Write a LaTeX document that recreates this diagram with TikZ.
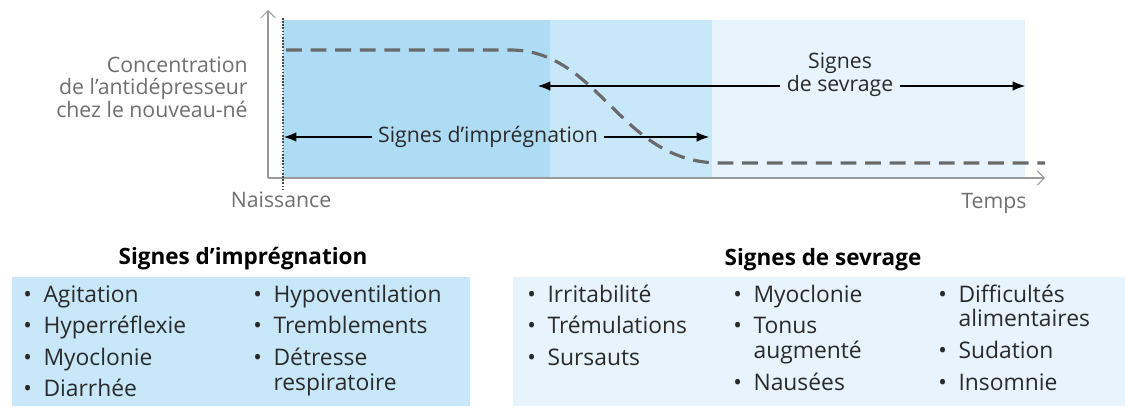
\documentclass[tikz,border=0pt]{standalone}
\usepackage{fontspec}
\setmainfont{Open Sans}
\usepackage{tikz}
\usetikzlibrary{arrows.meta, positioning}

\definecolor{blueDark}{HTML}{AEDCF5}
\definecolor{blueMid}{HTML}{C8E8FA}
\definecolor{blueLight}{HTML}{E8F4FD}
\definecolor{curveGray}{HTML}{6A6A6A}
\definecolor{axisGray}{HTML}{9A9A9A}
\definecolor{labelGray}{HTML}{6F6F6F}
\definecolor{textDark}{HTML}{2A2A2A}

\newcommand{\bul}{\makebox[11.5pt][l]{•}}

\begin{document}
\begin{tikzpicture}[x=0.02cm, y=-0.02cm,
        >=Latex,
        lbl/.style={font=\fontsize{12.1}{12.8}\selectfont, text=textDark, inner sep=0pt},
        axlbl/.style={lbl, text=labelGray},
        title/.style={font=\fontsize{12.8}{14}\selectfont\bfseries, text=black, inner sep=0pt},
        items/.style={font=\fontsize{13}{14.2}\selectfont, text=textDark, inner sep=0pt, anchor=base west},
        axis/.style={draw=axisGray, line width=0.6pt, -{Straight Barb[length=4pt, width=8pt]}},
        sarr/.style={->, >={Latex[length=7pt, width=5.5pt]}, line width=0.6pt, draw=black},
        conc/.style={draw=curveGray, line width=1.8pt, dash pattern=on 9pt off 5pt},
    ]
    \useasboundingbox (0,0) rectangle (1125,406);

    % ---- Time periods ----
    \fill[blueDark]  (283,20) rectangle (550,178);
    \fill[blueMid]   (550,20) rectangle (712,178);
    \fill[blueLight] (712,20) rectangle (1025,178);

    % ---- Axes ----
    \coordinate (origin) at (268,178);
    \coordinate (yTop)   at (268,10);
    \coordinate (xEnd)   at (1045,178);
    \draw[axis] (origin) -- (yTop);
    \draw[axis] (origin) -- (xEnd);

    \coordinate (birthTop) at (283,18);
    \coordinate (birthBot) at (283,190);
    \draw[textDark!85, line width=1.2pt, dash pattern=on 0.9pt off 0.9pt] (birthTop) -- (birthBot);

    \node[axlbl, align=right, anchor=east] (conclbl) at (248,87)
        {Concentration\\de l’antidépresseur\\chez le nouveau-né};
    \node[axlbl] (birth) at (281,200) {Naissance};
    \node[axlbl] (time) at (994,203) {Temps};

    % ---- Concentration curve ----
    \draw[conc] (286,50) -- (510,50) .. controls (600,50) and (620,163) .. (720,163) -- (1045,163);

    % ---- Period arrows ----
    \node[lbl, inner xsep=3.5pt] (imp) at (488,137) {Signes d’imprégnation};
    \coordinate (impL) at (284,137);
    \coordinate (impR) at (709,137);
    \draw[sarr] (imp.west) -- (impL);
    \draw[sarr] (imp.east) -- (impR);

    \node[lbl, inner xsep=3.5pt] (sev) at (840,86) {de sevrage};
    \node[lbl] (sevTop) at (840,63) {Signes};
    \coordinate (sevL) at (538,86);
    \coordinate (sevR) at (1025,86);
    \draw[sarr] (sev.west) -- (sevL);
    \draw[sarr] (sev.east) -- (sevR);

    % ---- Sign lists ----
    \node[title] (impTitle) at (243,259) {Signes d’imprégnation};
    \node[title] (sevTitle) at (823,260) {Signes de sevrage};

    \fill[blueMid]   (12,277) rectangle (470,406);
    \fill[blueLight] (513,277) rectangle (1125,406);

    \node[items] (impA) at (23,302) {\begin{tabular}[t]{@{}l@{}l@{}}
        \bul & Agitation\\[3.8pt]
        \bul & Hyperréflexie\\[3.8pt]
        \bul & Myoclonie\\[3.8pt]
        \bul & Diarrhée
    \end{tabular}};
    \node[items] (impB) at (253,302) {\begin{tabular}[t]{@{}l@{}l@{}}
        \bul & Hypoventilation\\[3.8pt]
        \bul & Tremblements\\[3.8pt]
        \bul & Détresse\\
             & respiratoire
    \end{tabular}};

    \node[items] (sevA) at (527,302) {\begin{tabular}[t]{@{}l@{}l@{}}
        \bul & Irritabilité\\[3.8pt]
        \bul & Trémulations\\[3.8pt]
        \bul & Sursauts
    \end{tabular}};
    \node[items] (sevB) at (733,302) {\begin{tabular}[t]{@{}l@{}l@{}}
        \bul & Myoclonie\\[3.8pt]
        \bul & Tonus\\
             & augmenté\\[3.8pt]
        \bul & Nausées
    \end{tabular}};
    \node[items] (sevC) at (938,302) {\begin{tabular}[t]{@{}l@{}l@{}}
        \bul & Difficultés\\
             & alimentaires\\[3.8pt]
        \bul & Sudation\\[3.8pt]
        \bul & Insomnie
    \end{tabular}};

\end{tikzpicture}
\end{document}
